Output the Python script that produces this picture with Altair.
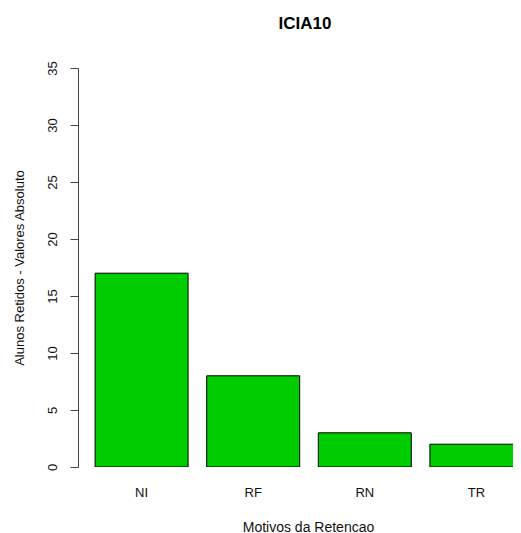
import altair as alt
import pandas as pd

motivos = ["NI", "RF", "RN", "TR"]
alunos = [17, 8, 3, 2]
y_ticks = [0, 5, 10, 15, 20, 25, 30, 35]

df = pd.DataFrame({"motivo": motivos, "alunos": alunos})

FONT = "Liberation Sans"

chart = alt.Chart(df).mark_bar(
    color="#00CD00", stroke="black", strokeWidth=1, clip=True
).encode(
    x=alt.X(
        "motivo:N",
        sort=motivos,
        scale=alt.Scale(paddingInner=1 / 6, paddingOuter=0.1533, range=[0, 462]),
        axis=alt.Axis(
            title="Motivos da Retencao",
            labelAngle=0,
            ticks=False,
            domain=False,
            labelPadding=19,
            labelFontSize=13,
            labelFont=FONT,
            labelColor="#111",
            titleFont=FONT,
            titleFontSize=14,
            titleFontWeight="normal",
            titleColor="#111",
            titleX=230,
            titleY=64,
            titleBaseline="alphabetic",
        ),
    ),
    y=alt.Y(
        "alunos:Q",
        scale=alt.Scale(domain=[0, 35], nice=False, zero=True),
        axis=alt.Axis(
            values=y_ticks,
            title="Alunos Retidos - Valores Absoluto",
            grid=False,
            labelAngle=270,
            labelAlign="center",
            labelBaseline="alphabetic",
            labelPadding=14,
            tickSize=8,
            tickColor="#444",
            domainColor="#444",
            labelFontSize=13,
            labelFont=FONT,
            labelColor="#111",
            titleFont=FONT,
            titleFontSize=13,
            titleFontWeight="normal",
            titleColor="#111",
            titleAngle=270,
            titleAlign="center",
            titleBaseline="alphabetic",
            titleX=-55,
            titleY=199.5,
        ),
    ),
).properties(
    width=435,
    height=399,
    background="white",
    title=alt.TitleParams(
        "ICIA10",
        font=FONT,
        fontSize=17,
        fontWeight="bold",
        color="black",
        anchor="start",
        frame="group",
        baseline="alphabetic",
        align="center",
        dx=227,
        offset=15,
    ),
    autosize=alt.AutoSizeParams(type="none"),
    padding={"left": 70, "top": 60, "right": 0, "bottom": 66},
).configure_view(stroke=None)

chart.save("out.html", embed_options={"renderer": "svg", "actions": False})
